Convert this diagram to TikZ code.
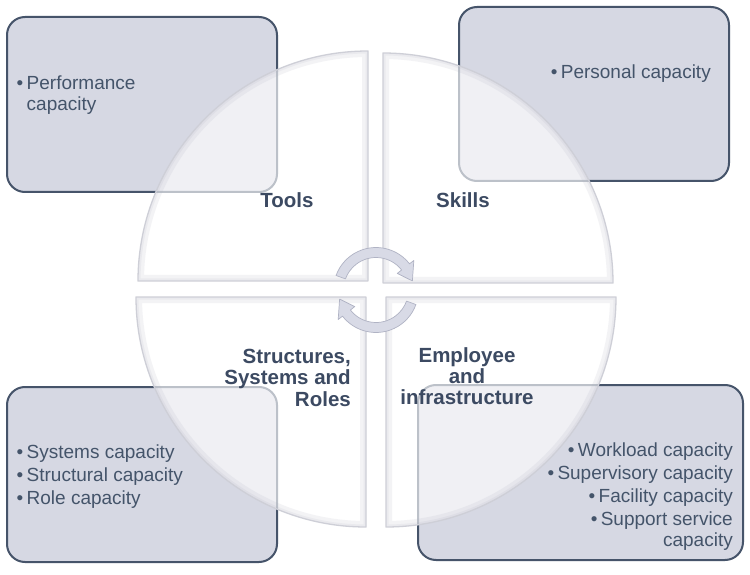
\documentclass[tikz,border=0pt]{standalone}
\usepackage{fontspec}
\setmainfont{Liberation Sans}
\usetikzlibrary{calc}
\definecolor{boxfill}{RGB}{214,216,227}
\definecolor{boxline}{RGB}{70,84,106}
\definecolor{txtcol}{RGB}{68,84,106}
\definecolor{lblcol}{RGB}{60,74,98}
\definecolor{qedge}{RGB}{206,207,215}
\definecolor{qbevel}{RGB}{170,172,190}
\definecolor{arrfill}{RGB}{216,218,230}
\definecolor{arrline}{RGB}{176,179,196}
\newcommand\bul{\makebox[10pt][l]{•}}
\newcommand\quarterpiece[3]{%
  \fill[white,fill opacity=.64] (#1) -- ++(#2:230) arc[start angle=#2,end angle=#3,radius=230] -- cycle;
  \begin{scope}
    \clip (#1) -- ++(#2:230) arc[start angle=#2,end angle=#3,radius=230] -- cycle;
    \draw[qbevel,line width=12pt,opacity=.14,line join=round] (#1) -- ++(#2:230) arc[start angle=#2,end angle=#3,radius=230] -- cycle;
    \draw[qbevel,line width=5pt,opacity=.12,line join=round] (#1) -- ++(#2:230) arc[start angle=#2,end angle=#3,radius=230] -- cycle;
  \end{scope}
  \draw[qedge,line width=1.3pt,line join=round] (#1) -- ++(#2:230) arc[start angle=#2,end angle=#3,radius=230] -- cycle;
}
\begin{document}
\begin{tikzpicture}[x=1pt,y=1pt,
  capbox/.style={draw=boxline,line width=2pt,fill=boxfill,rounded corners=18pt,inner sep=0pt},
  itemtxt/.style={inner sep=0pt,text=txtcol,font=\fontsize{19}{21}\selectfont},
  lbltxt/.style={inner sep=0pt,text=lblcol,font=\fontsize{20.5}{21.5}\selectfont\bfseries},
  arrowshape/.style={fill=arrfill,draw=arrline,line width=0.7pt,line join=round}]
\useasboundingbox (0,0) rectangle (750,574);
\fill[white] (0,0) rectangle (750,574);
% capacity boxes
\node[capbox,minimum width=270pt,minimum height=175pt] (tlbox) at (142,469.5) {};
\node[capbox,minimum width=270pt,minimum height=174pt] (trbox) at (594,480) {};
\node[capbox,minimum width=270pt,minimum height=175pt] (blbox) at (142,99.5) {};
\node[capbox,minimum width=325pt,minimum height=175pt] (brbox) at (580.5,101.5) {};
% translucent quarters
\quarterpiece{368,293}{180}{90}
\quarterpiece{383,291}{90}{0}
\quarterpiece{366,277}{180}{270}
\quarterpiece{386,277}{0}{-90}
% box texts
\node[itemtxt,anchor=base west] (tltext) at (16.5,484) {\begin{tabular}[t]{@{}l@{}}\bul Performance\\\hspace{10pt}capacity\end{tabular}};
\node[itemtxt,anchor=base east] (trtext) at (711,495) {\bul Personal capacity};
\node[itemtxt,anchor=base west] (bltext) at (16.5,116) {\begin{tabular}[t]{@{}l@{}}\bul Systems capacity\\[2pt]\bul Structural capacity\\[2pt]\bul Role capacity\end{tabular}};
\node[itemtxt,anchor=base east] (brtext) at (733,118) {\begin{tabular}[t]{@{}r@{}}\bul Workload capacity\\[2pt]\bul Supervisory capacity\\[2pt]\bul Facility capacity\\[2pt]\bul Support service\\capacity\end{tabular}};
% quarter labels
\node[lbltxt,anchor=base] (tools) at (287,366) {Tools};
\node[lbltxt,anchor=base] (skills) at (463,366) {Skills};
\node[lbltxt,anchor=base east] (ssr) at (351,211) {\begin{tabular}[t]{@{}r@{}}Structures,\\Systems and\\Roles\end{tabular}};
\node[lbltxt,anchor=base] (emp) at (467,212) {\begin{tabular}[t]{@{}c@{}}Employee\\and\\infrastructure\end{tabular}};
% central cycle arrows
\coordinate (c) at (376,284);
\path[arrowshape] ($(c)+(160:42.5)$) arc[start angle=160,end angle=38,radius=42.5]
  -- ($(c)+(38:48)$) -- ($(c)+(14:37.5)$) -- ($(c)+(38:27)$) -- ($(c)+(38:32.5)$)
  arc[start angle=38,end angle=160,radius=32.5] -- cycle;
\path[arrowshape] ($(c)+(340:42.5)$) arc[start angle=340,end angle=218,radius=42.5]
  -- ($(c)+(218:48)$) -- ($(c)+(194:37.5)$) -- ($(c)+(218:27)$) -- ($(c)+(218:32.5)$)
  arc[start angle=218,end angle=340,radius=32.5] -- cycle;
\end{tikzpicture}
\end{document}
